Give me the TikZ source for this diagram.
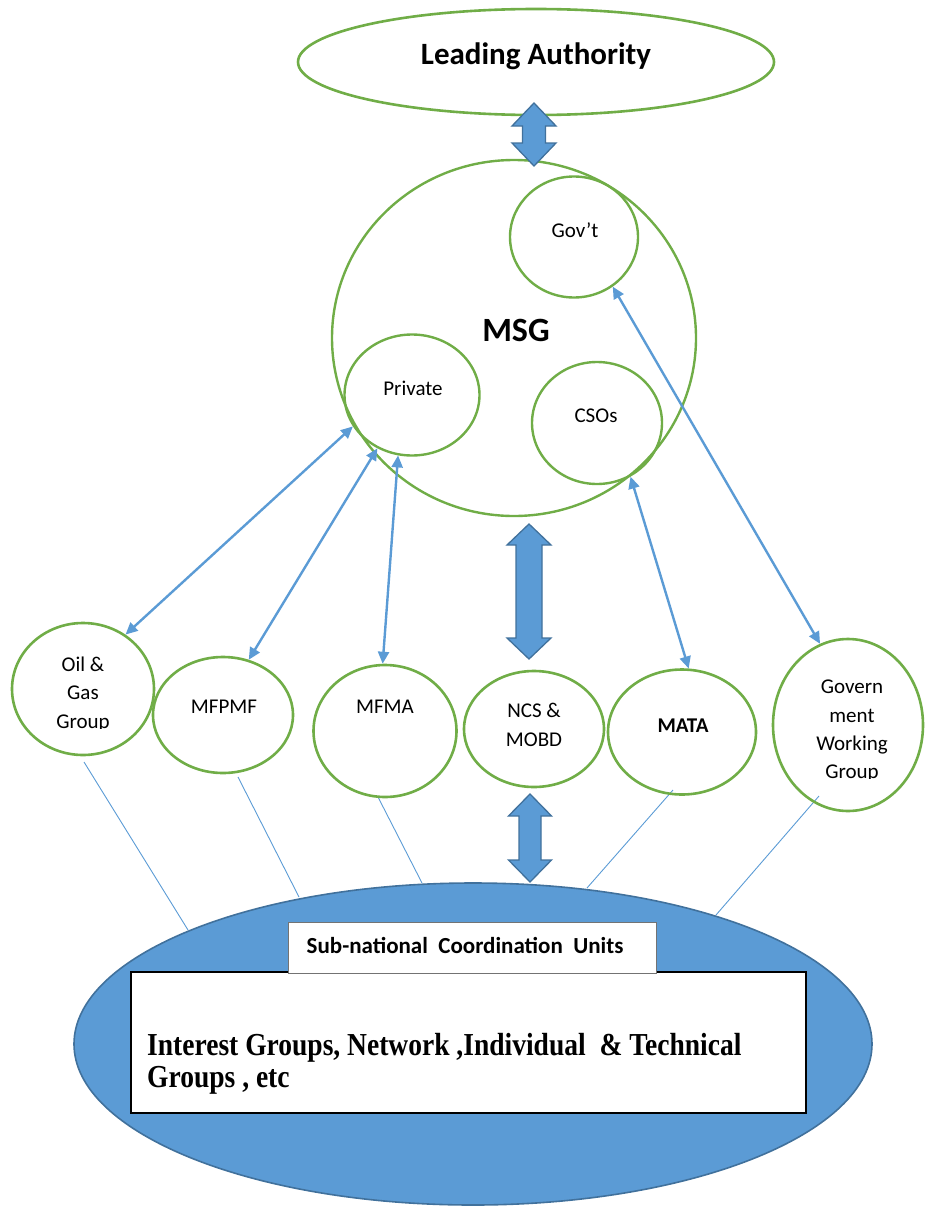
\documentclass[tikz,border=0pt]{standalone}
\usepackage{fontspec}
\setmainfont{Carlito}
\newfontfamily\tnr[FakeStretch=0.86]{Liberation Serif}
\usetikzlibrary{shapes.geometric,arrows.meta}
\definecolor{ggreen}{HTML}{70AD47}
\definecolor{bfill}{HTML}{5B9BD5}
\definecolor{bedge}{HTML}{41719C}
\tikzset{
  grp/.style={ellipse, draw=ggreen, line width=2.6pt, inner sep=0pt},
  lbl/.style={font=\fontsize{21}{29}\selectfont, anchor=base, inner sep=0pt},
  link/.style={draw=bfill, line width=2.4pt, {Triangle[length=12pt,width=11pt]}-{Triangle[length=12pt,width=11pt]}},
  feed/.style={draw=bfill, line width=0.9pt},
  blockarrow/.style={fill=bfill, draw=bedge, line width=1.3pt, line join=miter},
}
\newcommand{\mydblarrow}[6]{%
  \draw[blockarrow] (#1,#2) -- (#1+#4,#2+#6) -- (#1+#5,#2+#6) -- (#1+#5,#3-#6) -- (#1+#4,#3-#6) -- (#1,#3)
    -- (#1-#4,#3-#6) -- (#1-#5,#3-#6) -- (#1-#5,#2+#6) -- (#1-#4,#2+#6) -- cycle;}
\begin{document}
\begin{tikzpicture}[x=1pt,y=-1pt]
\useasboundingbox (0,0) rectangle (924,1207);

% bottom ellipse and feed lines
\coordinate (f1a) at (84,762);  \coordinate (f1b) at (188,930);
\coordinate (f2a) at (238,777); \coordinate (f2b) at (299,897);
\coordinate (f3a) at (378,797); \coordinate (f3b) at (422,883);
\coordinate (f4a) at (673,790); \coordinate (f4b) at (587,888);
\coordinate (f5a) at (819,796); \coordinate (f5b) at (716,915);
\foreach \i in {1,...,5} {\draw[feed] (f\i a) -- (f\i b);}
\node[ellipse, fill=bfill, draw=bedge, line width=1.6pt, minimum width=798pt, minimum height=322pt, inner sep=0pt] (base) at (473,1044) {};

\node[rectangle, draw=black, fill=white, line width=1.6pt, minimum width=675pt, minimum height=141pt, inner sep=0pt] (big) at (468.5,1042.5) {};
\node[rectangle, draw=black!55, fill=white, line width=1pt, minimum width=368pt, minimum height=51pt, inner sep=0pt] (sub) at (472,947.5) {};
\node[font=\bfseries\fontsize{23}{28}\selectfont, anchor=base, inner sep=0pt] (subt) at (465,953) {Sub-national\ \ Coordination\ \ Units};
\node[font=\tnr\bfseries\fontsize{32}{34}\selectfont, anchor=base west, inner sep=0pt] (it1) at (147,1055) {Interest Groups, Network ,Individual\ \ \& Technical};
\node[font=\tnr\bfseries\fontsize{32}{34}\selectfont, anchor=base west, inner sep=0pt] (it2) at (147,1087) {Groups , etc};

% top
\node[grp, minimum width=476pt, minimum height=106pt] (lead) at (536,62) {};
\node[font=\bfseries\fontsize{31}{37}\selectfont, anchor=base, inner sep=0pt] (leadt) at (536,65) {Leading Authority};

% MSG
\node[grp, line width=2.4pt, minimum width=364pt, minimum height=356pt] (msg) at (514,338) {};
\node[font=\bfseries\fontsize{34}{40}\selectfont, anchor=base, inner sep=0pt] (msgt) at (516,341) {MSG};
\node[grp, line width=2.4pt, minimum width=128pt, minimum height=121pt] (gov) at (574,237) {};
\node[lbl] (govt) at (575,237) {Gov’t};
\node[grp, line width=2.4pt, minimum width=135pt, minimum height=121pt] (priv) at (412,395) {};
\node[lbl] (privt) at (413,395) {Private};
\node[grp, line width=2.4pt, minimum width=130pt, minimum height=122pt] (cso) at (597,423) {};
\node[lbl] (csot) at (596,422) {CSOs};

% row of groups
\node[grp, minimum width=142pt, minimum height=132pt] (oil) at (83,689) {};
\node[lbl] (oil1) at (83,671) {Oil \&};
\node[lbl] (oil2) at (83,699) {Gas};
\begin{scope}
  \clip (20,600) rectangle (150,728.5);
  \node[lbl] (oil3) at (83,728) {Group};
\end{scope}
\node[grp, minimum width=140pt, minimum height=116pt] (mfpmf) at (223,715) {};
\node[lbl] (mfpmft) at (224,713) {MFPMF};
\node[grp, minimum width=143pt, minimum height=132pt] (mfma) at (385,731) {};
\node[lbl] (mfmat) at (385,713) {MFMA};
\node[grp, minimum width=140pt, minimum height=116pt] (ncs) at (534,729) {};
\node[lbl] (ncs1) at (534,717) {NCS \&};
\node[lbl] (ncs2) at (534,746) {MOBD};
\node[grp, minimum width=148pt, minimum height=125pt] (mata) at (682,732) {};
\node[lbl, font=\bfseries\fontsize{21}{29}\selectfont] (matat) at (683,732) {MATA};
\node[grp, minimum width=150pt, minimum height=172pt] (gwg) at (848,725) {};
\node[lbl] (gwg1) at (852,693) {Govern};
\node[lbl] (gwg2) at (852,722) {ment};
\node[lbl] (gwg3) at (852,750) {Working};
\begin{scope}
  \clip (780,600) rectangle (920,778.5);
  \node[lbl] (gwg4) at (852,778) {Group};
\end{scope}

% thin links
\draw[link] (priv.208) -- (oil.52);
\draw[link] (priv.237) -- (mfpmf.65);
\draw[link] (priv.257) -- (mfma.92);
\draw[link] (cso.302) -- (mata.84);
\draw[link] (gov.308) -- (gwg.109);

% block arrows
\mydblarrow{534}{103}{166}{22}{11.5}{23}
\mydblarrow{529}{524}{659}{22}{13}{21}
\mydblarrow{530}{794}{882}{21.5}{11}{22}
\end{tikzpicture}
\end{document}
